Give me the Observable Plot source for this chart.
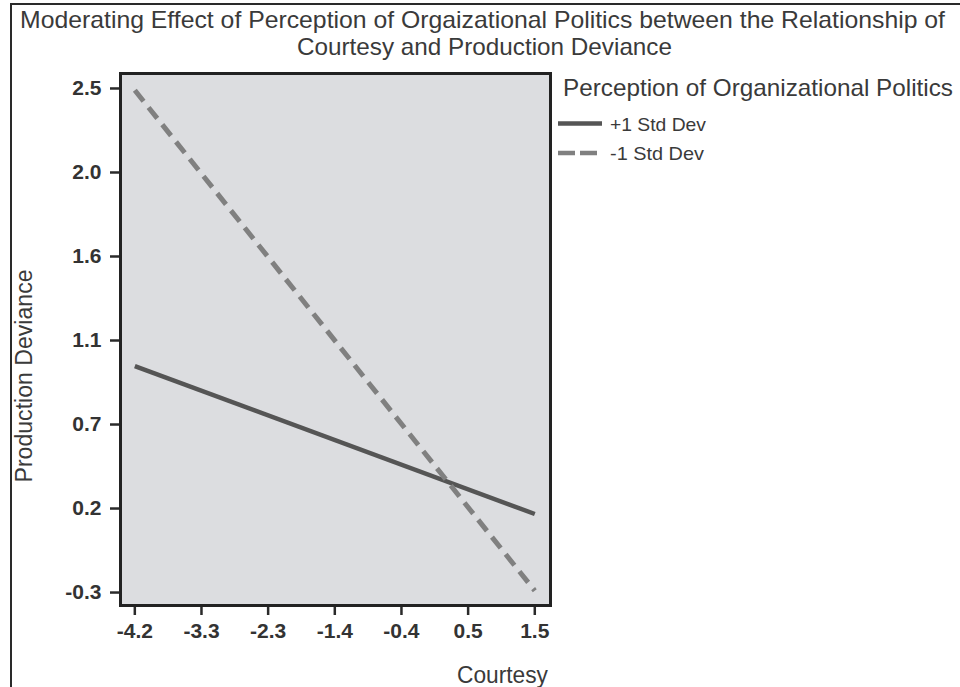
<!DOCTYPE html>
<html>
<head>
<meta charset="utf-8">
<script src="https://cdn.jsdelivr.net/npm/d3@7"></script>
<script src="https://cdn.jsdelivr.net/npm/@observablehq/plot@0.6"></script>
<style>
  html, body { margin: 0; padding: 0; background: #fff; }
  #chart { position: relative; width: 960px; height: 687px; overflow: hidden; background: #fff; }
  #border { position: absolute; left: 10px; top: 3px; width: 1000px; height: 1000px;
            border-left: 2px solid #2a2a2a; border-top: 2px solid #2a2a2a; }
  #plot { position: absolute; left: 0; top: 60px; }
  #plot svg text { font-size: 21px !important; font-weight: bold !important; fill: #333;
                   font-family: "Liberation Sans", Arial, sans-serif !important; }
  #overlay { position: absolute; left: 0; top: 0; pointer-events: none; }
  #overlay text { font-family: "Liberation Sans", Arial, sans-serif; fill: #3a3a3a; }
</style>
</head>
<body>
<div id="chart">
  <div id="border"></div>
  <div id="plot"></div>
  <svg id="overlay" width="960" height="687"></svg>
</div>
<script>
// ---- Data ----
const titleLines = [
  "Moderating Effect of Perception of Orgaizational Politics between the Relationship of",
  "Courtesy and Production Deviance"
];
const xLabel = "Courtesy";
const yLabel = "Production Deviance";
const legendTitle = "Perception of Organizational Politics";
const seriesNames = ["+1 Std Dev", "-1 Std Dev"];

const courtesy = [-4.2, 1.5];
const plusOneSD = [0.98, 0.17];
const minusOneSD = [2.49, -0.25];

const xTickValues = [-4.2, -3.25, -2.3, -1.35, -0.4, 0.55, 1.5];
const xTickLabels = ["-4.2", "-3.3", "-2.3", "-1.4", "-0.4", "0.5", "1.5"];
const yTickValues = [2.5, 2.04, 1.58, 1.12, 0.66, 0.2, -0.26];
const yTickLabels = ["2.5", "2.0", "1.6", "1.1", "0.7", "0.2", "-0.3"];

// ---- Build table ----
const table = [];
courtesy.forEach((c, i) => {
  table.push({series: seriesNames[0], x: c, y: plusOneSD[i]});
  table.push({series: seriesNames[1], x: c, y: minusOneSD[i]});
});
const xFmt = new Map(xTickValues.map((v, i) => [v, xTickLabels[i]]));
const yFmt = new Map(yTickValues.map((v, i) => [v, yTickLabels[i]]));

const lineStyles = {
  [seriesNames[0]]: {stroke: "#555555", strokeWidth: 4.5, dash: null},
  [seriesNames[1]]: {stroke: "#808080", strokeWidth: 5, dash: "14,8"}
};

const axisText = {fontSize: 21, fontWeight: "bold", fontFamily: "'Liberation Sans', Arial, sans-serif"};

const plot = Plot.plot({
  width: 960,
  height: 627,
  marginTop: 13,
  marginBottom: 82,
  marginLeft: 120,
  marginRight: 410,
  x: {domain: [-4.404, 1.724]},
  y: {domain: [-0.331, 2.582]},
  style: {
    fontFamily: "'Liberation Sans', Arial, sans-serif",
    fontSize: "21px",
    fontWeight: "bold",
    color: "#2a2a2a",
    background: "transparent",
    overflow: "visible"
  },
  marks: [
    Plot.frame({fill: "#dcdde0"}),
    Plot.axisX({ticks: xTickValues, tickFormat: d => xFmt.get(d), tickSize: 10, tickPadding: 8,
                strokeWidth: 2.5, label: null, ...axisText}),
    Plot.axisY({ticks: yTickValues, tickFormat: d => yFmt.get(d), tickSize: 10, tickPadding: 9,
                strokeWidth: 2.5, label: null, ...axisText}),
    ...seriesNames.map(s => Plot.line(table.filter(d => d.series === s), {
      x: "x", y: "y",
      stroke: lineStyles[s].stroke,
      strokeWidth: lineStyles[s].strokeWidth,
      strokeDasharray: lineStyles[s].dash,
      strokeLinecap: "butt"
    })),
    Plot.frame({stroke: "#222", strokeWidth: 3})
  ]
});
document.getElementById("plot").appendChild(plot);
d3.select(plot).selectAll("text")
  .style("font-size", "21px").style("font-weight", "bold");

// ---- Overlay text: title, axis labels, legend ----
const ov = d3.select("#overlay");
function addText(str, x, y, size, len, extra) {
  const t = ov.append("text").attr("x", x).attr("y", y)
    .attr("font-size", size).text(str);
  if (len) t.attr("textLength", len).attr("lengthAdjust", "spacingAndGlyphs");
  if (extra) extra(t);
  return t;
}
addText(titleLines[0], 20, 27.5, 24, 925);
addText(titleLines[1], 297, 55, 24, 375);
addText(xLabel, 457, 683, 23, 91);
addText(yLabel, 0, 0, 23, 213, t => t.attr("text-anchor", "middle")
  .attr("transform", "translate(32,376) rotate(-90)"));
addText(legendTitle, 563, 96, 24, 390);

const legendRows = [
  {name: seriesNames[0], ly: 123.5, ty: 131, len: 96},
  {name: seriesNames[1], ly: 153, ty: 160, len: 94}
];
legendRows.forEach(r => {
  const st = lineStyles[r.name];
  ov.append("line").attr("x1", 558).attr("x2", 602).attr("y1", r.ly).attr("y2", r.ly)
    .attr("stroke", st.stroke).attr("stroke-width", 4.5)
    .attr("stroke-dasharray", st.dash ? "17,5" : null);
  addText(r.name, 610, r.ty, 19, r.len);
});
</script>
</body>
</html>
